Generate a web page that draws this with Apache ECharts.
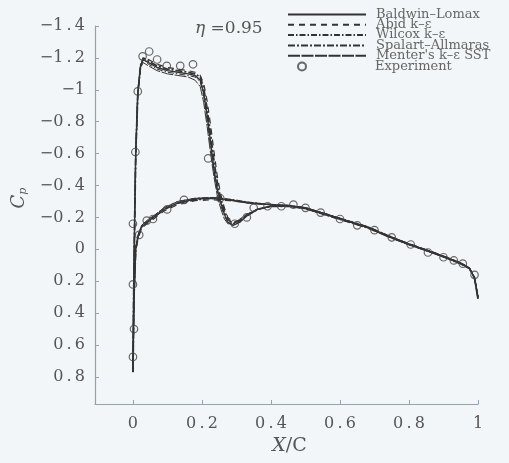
<!DOCTYPE html>
<html>
<head>
<meta charset="utf-8">
<script src="https://cdn.jsdelivr.net/npm/echarts@6/dist/echarts.min.js"></script>
<style>
html, body { margin: 0; padding: 0; background: #f2f6f8; }
#main { width: 509px; height: 463px; }
</style>
</head>
<body>
<div id="main"></div>
<script>
var modelNames = ['Baldwin\u2013Lomax', 'Abid k\u2013\u03b5', 'Wilcox k\u2013\u03b5', 'Spalart\u2013Allmaras', "Menter's k\u2013\u03b5 SST"];

var xUp = [0, 0.002, 0.005, 0.008, 0.014, 0.022, 0.03, 0.045, 0.07, 0.1, 0.13, 0.16, 0.18, 0.195, 0.205, 0.215, 0.225, 0.235, 0.245, 0.255, 0.265, 0.275, 0.29, 0.31, 0.33, 0.36, 0.4, 0.45, 0.5, 0.56, 0.62, 0.68, 0.74, 0.8, 0.86, 0.91, 0.95, 0.975, 0.99, 1.0];
var xLo = [0, 0.003, 0.008, 0.015, 0.025, 0.04, 0.06, 0.09, 0.13, 0.18, 0.23, 0.28, 0.34, 0.4, 0.45, 0.5, 0.56, 0.62, 0.68, 0.74, 0.8, 0.86, 0.91, 0.95, 0.975, 0.99, 1.0];

var blUp = [0.77, 0.3, -0.2, -0.6, -0.98, -1.15, -1.19, -1.17, -1.14, -1.12, -1.11, -1.1, -1.09, -1.06, -0.98, -0.84, -0.67, -0.5, -0.37, -0.29, -0.22, -0.17, -0.15, -0.17, -0.21, -0.25, -0.27, -0.275, -0.26, -0.22, -0.18, -0.14, -0.08, -0.03, 0.015, 0.055, 0.09, 0.12, 0.18, 0.31];
var abidUp = [0.77, 0.32, -0.18, -0.58, -0.96, -1.14, -1.2, -1.19, -1.16, -1.14, -1.13, -1.12, -1.11, -1.09, -1.04, -0.93, -0.78, -0.61, -0.45, -0.34, -0.26, -0.2, -0.17, -0.18, -0.21, -0.25, -0.27, -0.275, -0.26, -0.22, -0.18, -0.14, -0.085, -0.035, 0.01, 0.05, 0.085, 0.115, 0.18, 0.3];
var wilcoxUp = [0.77, 0.3, -0.2, -0.6, -0.99, -1.16, -1.19, -1.16, -1.13, -1.11, -1.1, -1.09, -1.08, -1.05, -0.96, -0.81, -0.64, -0.48, -0.35, -0.27, -0.21, -0.17, -0.16, -0.18, -0.22, -0.25, -0.27, -0.27, -0.255, -0.215, -0.175, -0.135, -0.08, -0.03, 0.015, 0.055, 0.09, 0.12, 0.18, 0.3];
var saUp = [0.77, 0.31, -0.19, -0.59, -0.97, -1.15, -1.2, -1.18, -1.15, -1.13, -1.12, -1.11, -1.1, -1.08, -1.01, -0.88, -0.72, -0.55, -0.41, -0.31, -0.24, -0.19, -0.16, -0.18, -0.21, -0.25, -0.27, -0.27, -0.26, -0.22, -0.18, -0.14, -0.085, -0.03, 0.015, 0.055, 0.09, 0.12, 0.18, 0.31];
var sstUp = [0.77, 0.3, -0.21, -0.61, -0.99, -1.14, -1.17, -1.15, -1.12, -1.1, -1.09, -1.08, -1.06, -1.02, -0.92, -0.77, -0.6, -0.45, -0.33, -0.25, -0.19, -0.16, -0.16, -0.19, -0.22, -0.25, -0.27, -0.27, -0.255, -0.215, -0.175, -0.135, -0.08, -0.03, 0.015, 0.055, 0.09, 0.12, 0.18, 0.3];

var blLo = [0.77, 0.3, 0.0, -0.08, -0.14, -0.17, -0.2, -0.25, -0.29, -0.315, -0.32, -0.31, -0.29, -0.28, -0.275, -0.26, -0.22, -0.18, -0.14, -0.08, -0.03, 0.015, 0.055, 0.09, 0.12, 0.18, 0.31];
var abidLo = [0.77, 0.31, 0.01, -0.07, -0.13, -0.16, -0.19, -0.24, -0.28, -0.305, -0.31, -0.305, -0.29, -0.28, -0.27, -0.255, -0.215, -0.175, -0.135, -0.08, -0.03, 0.015, 0.055, 0.09, 0.12, 0.18, 0.3];
var wilcoxLo = [0.77, 0.3, -0.01, -0.09, -0.15, -0.18, -0.21, -0.26, -0.3, -0.32, -0.325, -0.315, -0.295, -0.28, -0.275, -0.26, -0.22, -0.18, -0.14, -0.085, -0.035, 0.01, 0.05, 0.085, 0.115, 0.175, 0.3];
var saLo = [0.77, 0.3, 0.0, -0.08, -0.14, -0.17, -0.2, -0.25, -0.29, -0.31, -0.32, -0.31, -0.29, -0.28, -0.27, -0.255, -0.215, -0.175, -0.135, -0.08, -0.03, 0.015, 0.055, 0.09, 0.12, 0.18, 0.31];
var sstLo = [0.77, 0.29, -0.01, -0.09, -0.15, -0.18, -0.21, -0.26, -0.3, -0.32, -0.325, -0.31, -0.29, -0.28, -0.275, -0.26, -0.22, -0.18, -0.14, -0.085, -0.035, 0.01, 0.05, 0.085, 0.115, 0.18, 0.3];

var expX = [0, 0.003, 0, 0, 0.018, 0.007, 0.014, 0.028, 0.047, 0.07, 0.098, 0.137, 0.174, 0.218, 0.253, 0.295, 0.33, 0.35, 0.04, 0.058, 0.099, 0.148, 0.39, 0.43, 0.465, 0.5, 0.544, 0.6, 0.65, 0.7, 0.75, 0.805, 0.855, 0.9, 0.93, 0.956, 0.99];
var expCp = [0.675, 0.5, 0.22, -0.16, -0.09, -0.61, -0.99, -1.21, -1.24, -1.19, -1.15, -1.15, -1.16, -0.57, -0.32, -0.16, -0.2, -0.26, -0.18, -0.19, -0.25, -0.31, -0.27, -0.27, -0.28, -0.26, -0.23, -0.19, -0.15, -0.12, -0.075, -0.03, 0.02, 0.05, 0.07, 0.09, 0.16];

var xTicksShown = [0, 0.2, 0.4, 0.6, 0.8, 1];
var yTicksShown = [-1.4, -1.2, -1, -0.8, -0.6, -0.4, -0.2, 0, 0.2, 0.4, 0.6, 0.8];

~function () {
    var myChart = echarts.init(document.getElementById('main'));
    var serif = 'DejaVu Serif';
    var ink = '#333';

    function loop(up, lo) {
        var pts = [];
        for (var i = xUp.length - 1; i >= 0; i--) pts.push([xUp[i], up[i]]);
        for (var j = 1; j < xLo.length; j++) pts.push([xLo[j], lo[j]]);
        return pts;
    }
    function tickText(v, shown) {
        var r = Math.round(v * 10) / 10;
        if (shown.indexOf(r) < 0 || Math.abs(v - r) > 1e-6) return '';
        var s = Math.abs(r).toString().split('').join('\u2009');
        return (r < 0 ? '\u2212' : '') + s;
    }

    var expData = expX.map(function (x, i) { return [x, expCp[i]]; });

    var lineDefs = [
        {up: blUp, lo: blLo, type: 'solid', width: 1.4},
        {up: abidUp, lo: abidLo, type: [6, 5], width: 1.2},
        {up: wilcoxUp, lo: wilcoxLo, type: [6, 2, 1.5, 2], width: 1},
        {up: saUp, lo: saLo, type: [7, 2, 2, 2], width: 1.8},
        {up: sstUp, lo: sstLo, type: [12, 1.5], width: 1}
    ];
    var series = lineDefs.map(function (d, i) {
        return {
            name: modelNames[i],
            type: 'line',
            symbol: 'none',
            smooth: false,
            lineStyle: {color: ink, width: d.width, type: d.type},
            itemStyle: {color: ink},
            data: loop(d.up, d.lo)
        };
    });
    series.push({
        name: 'Experiment',
        type: 'scatter',
        symbol: 'circle',
        symbolSize: 7.5,
        itemStyle: {color: 'rgba(0,0,0,0)', borderColor: '#444', borderWidth: 1.2},
        data: expData,
        z: 5
    });

    var option = {
        backgroundColor: '#f2f6f8',
        animation: false,
        title: {
            text: '{e|\u03b7} =0.95',
            left: 190,
            top: 15,
            textStyle: {
                fontFamily: serif, fontSize: 17, fontWeight: 'normal', color: '#555',
                rich: {e: {fontFamily: serif, fontSize: 17, fontStyle: 'italic', color: '#555'}}
            }
        },
        legend: [
            {
                data: modelNames,
                orient: 'vertical',
                left: 287,
                top: 8,
                padding: 0,
                itemWidth: 78,
                itemHeight: 10,
                itemGap: -2.7,
                itemStyle: {opacity: 0},
                textStyle: {fontFamily: serif, fontSize: 13, color: '#666', lineHeight: 13, padding: [0, 0, 0, 5]}
            },
            {
                data: [{name: 'Experiment', icon: 'circle'}],
                left: 297,
                top: 60,
                padding: 0,
                itemWidth: 8,
                itemHeight: 8,
                textStyle: {fontFamily: serif, fontSize: 13, color: '#666', lineHeight: 13, padding: [0, 0, 0, 64]}
            }
        ],
        grid: {left: 95, right: 31, top: 26, bottom: 59},
        xAxis: {
            type: 'value',
            min: -0.11,
            max: 1,
            splitLine: {show: false},
            axisLine: {show: true, onZero: false, lineStyle: {color: '#93a3ad', width: 1.2}},
            axisTick: {inside: true, length: 4, lineStyle: {color: '#93a3ad'}},
            axisLabel: {
                fontFamily: serif, fontSize: 16, color: '#555', margin: 12,
                formatter: function (v) { return tickText(v, xTicksShown); }
            },
            name: '{i|X}/C',
            nameLocation: 'middle',
            nameGap: 27,
            nameTextStyle: {
                fontFamily: serif, fontSize: 19, color: '#555', padding: [0, 0, 0, 6],
                rich: {i: {fontFamily: serif, fontSize: 19, fontStyle: 'italic', color: '#555'}}
            }
        },
        yAxis: {
            type: 'value',
            inverse: true,
            min: -1.4,
            max: 0.97,
            interval: 0.2,
            splitLine: {show: false},
            axisLine: {show: true, onZero: false, lineStyle: {color: '#93a3ad', width: 1.2}},
            axisTick: {inside: true, length: 4, lineStyle: {color: '#93a3ad'}},
            axisLabel: {
                fontFamily: serif, fontSize: 16, color: '#555', margin: 10,
                formatter: function (v) { return tickText(v, yTicksShown); }
            },
            name: '{c|C}{s|p}',
            nameLocation: 'middle',
            nameRotate: 90,
            nameGap: 66,
            nameTextStyle: {
                padding: [0, 0, 0, 34],
                rich: {
                    c: {fontFamily: serif, fontSize: 18, fontStyle: 'italic', color: '#555'},
                    s: {fontFamily: serif, fontSize: 11, fontStyle: 'italic', color: '#555', verticalAlign: 'bottom', padding: [8, 0, 0, 0]}
                }
            }
        },
        series: series
    };
    myChart.setOption(option);
}();
</script>
</body>
</html>
